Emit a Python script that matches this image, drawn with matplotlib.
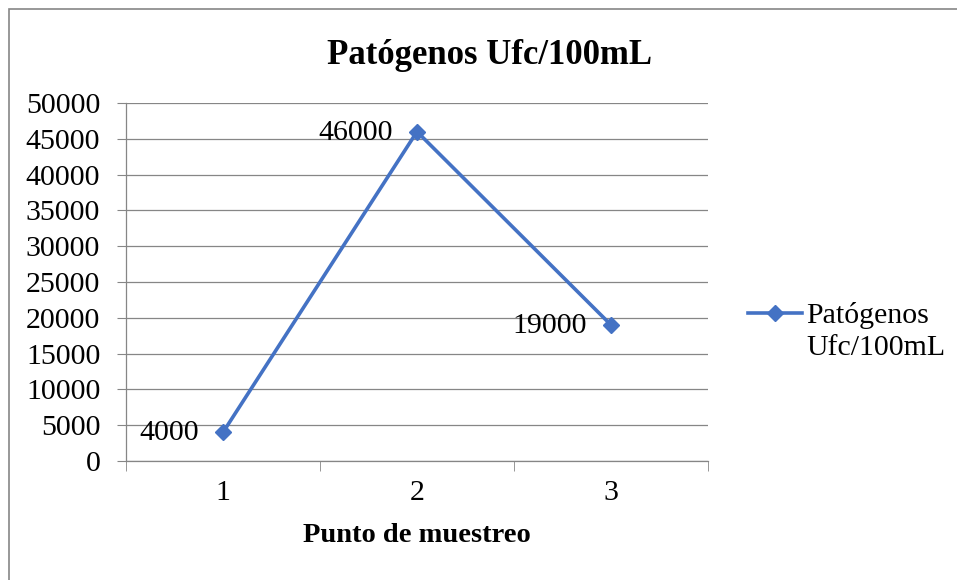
import matplotlib
matplotlib.use("Agg")
import matplotlib.pyplot as plt
from matplotlib.patches import Rectangle
from matplotlib.lines import Line2D

categories = ["1", "2", "3"]
values = [4000, 46000, 19000]
series_name = "Patógenos\nUfc/100mL"
title = "Patógenos Ufc/100mL"
xlabel = "Punto de muestreo"
yticks = list(range(0, 50001, 5000))

plt.rcParams['font.family'] = ['Liberation Serif', 'DejaVu Serif']

fig = plt.figure(figsize=(9.57, 5.80), dpi=100)
ax = fig.add_axes([126/957, 1-461/580, (708-126)/957, (461-103)/580])

x = list(range(1, len(categories)+1))
color = '#4472C4'
ax.plot(x, values, color=color, lw=2.6, marker='D', ms=8, zorder=3)
for xi, v in zip(x, values):
    ax.annotate(f"{v}", (xi, v), xytext=(-24, -1), textcoords='offset pixels',
                ha='right', va='center', fontsize=21.5)

ax.set_xlim(0.5, len(categories)+0.5)
ax.set_ylim(0, 50000)
ax.set_yticks(yticks)
ax.set_yticklabels([str(t) for t in yticks], fontsize=21.5)
ax.set_xticks(x)
ax.set_xticklabels(categories, fontsize=21.5)
ax.tick_params(axis='x', length=0, pad=14)
ax.tick_params(axis='y', length=6.5, color='#868686', pad=12)
ax.set_xticks([i + 0.5 for i in range(0, len(categories)+1)], minor=True)
ax.tick_params(axis='x', which='minor', length=7, color='#868686')
ax.grid(axis='y', color='#868686', lw=0.9)
ax.set_axisbelow(True)
for s in ['top', 'right']:
    ax.spines[s].set_visible(False)
for s in ['left', 'bottom']:
    ax.spines[s].set_color('#868686')
    ax.spines[s].set_linewidth(0.9)

fig.text(490/957, 1-55/580, title, ha='center', va='center', fontsize=25, fontweight='bold')
fig.text(417/957, 1-536/580, xlabel, ha='center', va='center', fontsize=20.5, fontweight='bold')

# legend
lx0, lx1, ly = 748/957, 802/957, 1-313/580
fig.add_artist(Line2D([lx0, lx1], [ly, ly], color=color, lw=2.6, transform=fig.transFigure))
fig.add_artist(Line2D([(lx0+lx1)/2], [ly], color=color, marker='D', ms=8, transform=fig.transFigure))
for i, line in enumerate(series_name.split("\n")):
    fig.text(806/957, 1-(323 + 32*i)/580, line, ha='left', va='baseline', fontsize=21.5)

fig.add_artist(Rectangle((9/957, -0.01), 1, 1.01-9/580, transform=fig.transFigure,
                         fill=False, edgecolor='#868686', lw=1.2))

fig.savefig("out.png", dpi=100)
